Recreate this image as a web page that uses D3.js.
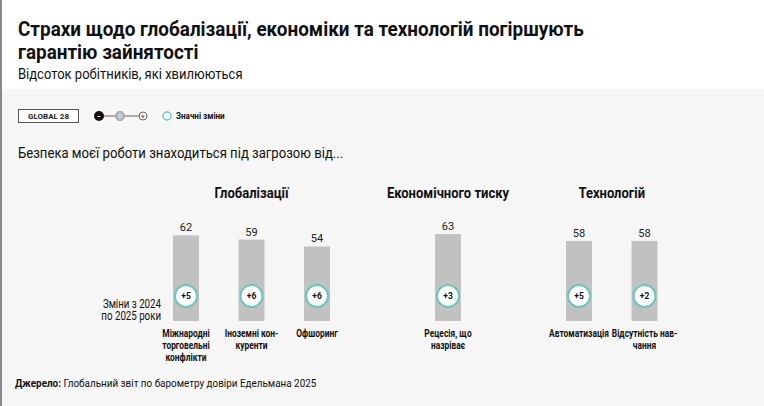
<!DOCTYPE html>
<html>
<head>
<meta charset="utf-8">
<script src="https://cdn.jsdelivr.net/npm/d3@7"></script>
<style>
  body { margin: 0; background: #fff; }
  svg { display: block; }
</style>
</head>
<body>
<div id="chart"></div>
<script>
    // chart data
    const groups = ['Глобалізації', 'Економічного тиску', 'Технологій'];
    const categories = [
        ['Міжнародні', 'торговельні', 'конфлікти'],
        ['Іноземні кон-', 'куренти'],
        ['Офшоринг'],
        ['Рецесія, що', 'назріває'],
        ['Автоматизація'],
        ['Відсутність нав-', 'чання']
    ];
    const groupOf = [0, 0, 0, 1, 2, 2];
    const values = [62, 59, 54, 63, 58, 58];
    const changes = ['+5', '+6', '+6', '+3', '+5', '+2'];

    const title = ['Страхи щодо глобалізації, економіки та технологій погіршують', 'гарантію зайнятості'];
    const subtitle = 'Відсоток робітників, які хвилюються';
    const question = 'Безпека моєї роботи знаходиться під загрозою від...';
    const changeNote = ['Зміни з 2024', 'по 2025 роки'];

    const w = 764;
    const h = 406;
    const teal = '#6cc6b9';
    const barGrey = '#c1c1c1';
    const font = 'Roboto, sans-serif';

    const svg = d3.select('#chart')
        .append('svg')
        .attr('width', w)
        .attr('height', h);

    // condensed text helper: Roboto squeezed horizontally by sx
    function ntext(parent, x, y, size, weight, anchor, sx) {
        return parent.append('text')
            .attr('transform', 'translate(' + x + ',' + y + ') scale(' + (sx || 0.85) + ',1)')
            .attr('font-family', font)
            .attr('font-size', size)
            .attr('font-weight', weight)
            .attr('text-anchor', anchor)
            .attr('fill', '#111');
    }

    // backgrounds
    svg.append('rect').attr('width', w).attr('height', h).attr('fill', '#fff');
    svg.append('rect').attr('y', 89).attr('width', w).attr('height', h - 89).attr('fill', '#f6f6f6');
    svg.append('rect').attr('width', 2).attr('height', h).attr('fill', '#8a8a8a');

    // header
    title.forEach(function (t, i) {
        ntext(svg, 18, 36 + i * 23, 21, 'bold', 'start', 0.9).text(t);
    });
    ntext(svg, 18, 79, 14, 'normal', 'start', 0.93).text(subtitle);

    // legend row
    const legend = svg.append('g');
    legend.append('rect')
        .attr('x', 18.5).attr('y', 109.5)
        .attr('width', 60).attr('height', 13)
        .attr('fill', '#fff').attr('stroke', '#555');
    legend.append('text')
        .attr('x', 48.5).attr('y', 119)
        .attr('text-anchor', 'middle')
        .attr('font-family', font)
        .attr('font-weight', 'bold')
        .attr('font-size', 8)
        .attr('fill', '#222')
        .text('GLOBAL 28');

    legend.append('line')
        .attr('x1', 99).attr('x2', 143).attr('y1', 116).attr('y2', 116)
        .attr('stroke', '#444').attr('stroke-width', 0.8);
    legend.append('circle').attr('cx', 99).attr('cy', 116).attr('r', 5).attr('fill', '#111');
    legend.append('text').attr('x', 99).attr('y', 118.5).attr('text-anchor', 'middle')
        .attr('font-family', font).attr('font-size', 7).attr('font-weight', 'bold')
        .attr('fill', '#fff').text('−');
    legend.append('circle').attr('cx', 120).attr('cy', 116).attr('r', 4.5).attr('fill', '#b8b8b8').attr('stroke', '#999');
    legend.append('text').attr('x', 120).attr('y', 118.5).attr('text-anchor', 'middle')
        .attr('font-family', font).attr('font-size', 6.5)
        .attr('fill', '#e8e8e8').text('0');
    legend.append('circle').attr('cx', 143).attr('cy', 116).attr('r', 4).attr('fill', '#fff').attr('stroke', '#444').attr('stroke-width', 0.8);
    legend.append('text').attr('x', 143).attr('y', 118.5).attr('text-anchor', 'middle')
        .attr('font-family', font).attr('font-size', 7.5)
        .attr('fill', '#222').text('+');

    legend.append('circle').attr('cx', 167).attr('cy', 116).attr('r', 4)
        .attr('fill', '#fff').attr('stroke', teal).attr('stroke-width', 1.5);
    ntext(legend, 176, 119, 9, 'bold', 'start', 0.9).text('Значні зміни');

    ntext(svg, 18, 158, 15, 'normal', 'start', 0.875).text(question);

    // slot layout: categories with a gap between groups
    const slots = [];
    categories.forEach(function (c, i) {
        if (i > 0 && groupOf[i] !== groupOf[i - 1]) slots.push('gap' + i);
        slots.push('cat' + i);
    });

    const xScale = d3.scalePoint()
        .domain(slots)
        .range([186, 644.5]);

    const yScale = d3.scaleLinear()
        .domain([0, 100])
        .range([321, 183]);

    const barWidth = 26;

    // group titles
    groups.forEach(function (g, gi) {
        const idx = categories.map((c, i) => i).filter(i => groupOf[i] === gi);
        const cx = d3.mean(idx, i => xScale('cat' + i));
        ntext(svg, cx, 198, 15.5, 'bold', 'middle', 0.84).text(g);
    });

    const bars = svg.append('g').selectAll('g')
        .data(values)
        .enter()
        .append('g')
        .attr('transform', (d, i) => 'translate(' + xScale('cat' + i) + ',0)');

    bars.append('rect')
        .attr('x', -barWidth / 2)
        .attr('y', d => yScale(d))
        .attr('width', barWidth)
        .attr('height', d => yScale(0) - yScale(d))
        .attr('fill', barGrey);

    bars.append('text')
        .attr('y', d => yScale(d) - 4)
        .attr('text-anchor', 'middle')
        .attr('font-family', font)
        .attr('font-size', 11)
        .attr('fill', '#222')
        .text(d => d);

    bars.append('circle')
        .attr('cy', 296)
        .attr('r', 11)
        .attr('fill', '#fff')
        .attr('stroke', teal)
        .attr('stroke-width', 2);

    bars.append('text')
        .attr('y', 299)
        .attr('text-anchor', 'middle')
        .attr('font-family', font)
        .attr('font-weight', 'bold')
        .attr('font-size', 8.5)
        .attr('fill', '#111')
        .text((d, i) => changes[i]);

    bars.each(function (d, i) {
        const t = ntext(d3.select(this), 0, 0, 10.5, 'bold', 'middle', 0.8);
        t.selectAll('tspan')
            .data(categories[i])
            .enter()
            .append('tspan')
            .attr('x', 0)
            .attr('y', (s, j) => 337 + j * 12)
            .text(s => s);
    });

    const note = ntext(svg, 161, 0, 12, 'normal', 'end', 0.81);
    note.selectAll('tspan')
        .data(changeNote)
        .enter()
        .append('tspan')
        .attr('x', 0)
        .attr('y', (d, j) => 308 + j * 12.5)
        .text(d => d);

    // source
    const source = ntext(svg, 15, 387, 11.5, 'normal', 'start', 0.86);
    source.append('tspan').attr('font-weight', 'bold').text('Джерело: ');
    source.append('tspan').text('Глобальний звіт по барометру довіри Едельмана 2025');
</script>
</body>
</html>
